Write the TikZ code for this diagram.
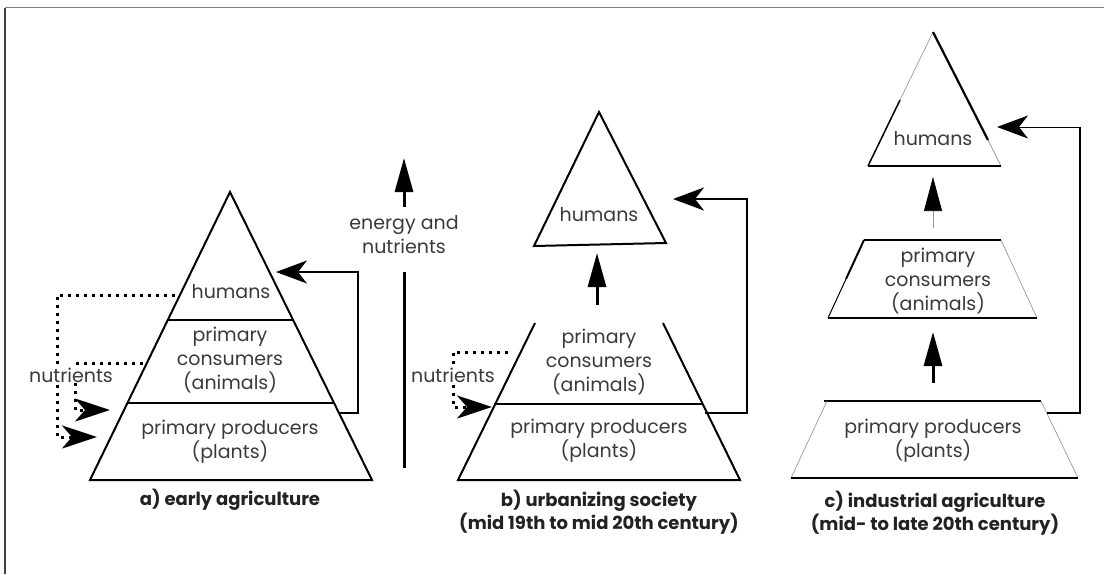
\documentclass[tikz,border=0pt]{standalone}
\usepackage{fontspec}
\setmainfont{Poppins}
\usetikzlibrary{arrows.meta,calc}
\definecolor{txt}{HTML}{3A3A3A}
\definecolor{captxt}{HTML}{222222}
\begin{document}
\begin{tikzpicture}[x=1pt,y=-1pt,
  pyr/.style={line width=2pt, line join=miter},
  faint/.style={line width=0.7pt, black!40},
  lbl/.style={font=\fontsize{19}{24}\selectfont, text=txt, align=center, inner sep=0pt},
  capt/.style={font=\bfseries\fontsize{18}{23}\selectfont, text=captxt, align=center, inner sep=0pt},
  fb/.style={line width=2pt, -{Stealth[length=31pt,width=23pt,inset=9pt]}},
  fbthin/.style={line width=1pt, -{Stealth[length=31pt,width=23pt,inset=9pt]}},
  uparr/.style={line width=3pt, -{Triangle[length=34pt,width=18pt]}},
  uparrthin/.style={line width=0.7pt, black!40, -{Triangle[length=34pt,width=18pt,black]}},
  dotarr/.style={line width=3pt, dash pattern=on 3pt off 5pt, -{Stealth[length=35pt,width=23pt,inset=10pt]}},
  nutr/.style={lbl, fill=white, inner sep=1pt}
]
\useasboundingbox (0,0) rectangle (1104,574);
% frame
\coordinate (f1) at (5,574); \coordinate (f2) at (5,7.5); \coordinate (f3) at (1104,7.5);
\draw[line width=1.5pt, black!75] (f1) -- (f2);
\draw[line width=1.5pt, black!50] (f2) -- (f3);

% ---------- a) early agriculture ----------
\coordinate (aA) at (230,192); \coordinate (aL) at (90,480); \coordinate (aR) at (372,480);
\draw[pyr] (aA) -- (aR) -- (aL) -- cycle;
\coordinate (ad1l) at (167,320); \coordinate (ad1r) at (293,320);
\coordinate (ad2l) at (127,403); \coordinate (ad2r) at (333,403);
\draw[pyr] (ad1l) -- (ad1r);
\draw[pyr] (ad2l) -- (ad2r);
\node[lbl] (ahum) at (231,292) {humans};
\node[lbl] (acons) at (230,360) {primary\\consumers\\(animals)};
\node[lbl] (aprod) at (230,442) {primary producers\\(plants)};
\node[capt] (acap) at (230,500) {a) early agriculture};
% feedback
\coordinate (afb0) at (340,413); \coordinate (afb1) at (358,413);
\coordinate (afb2) at (358,272); \coordinate (afb3) at (276,272);
\draw[fb] (afb0) -- (afb1) -- (afb2) -- (afb3);
% nutrients dotted
\coordinate (ad0) at (175,295); \coordinate (ad1) at (57,295);
\coordinate (ad2) at (57,437); \coordinate (ad3) at (97,437);
\draw[dotarr] (ad0) -- (ad1) -- (ad2) -- (ad3);
\coordinate (ae0) at (143,363); \coordinate (ae1) at (75,363);
\coordinate (ae2) at (75,410); \coordinate (ae3) at (110,410);
\draw[dotarr] (ae0) -- (ae1) -- (ae2) -- (ae3);
\node[nutr] (anut) at (71,375) {nutrients};

% ---------- energy and nutrients ----------
\coordinate (e0) at (404,468); \coordinate (e1) at (404,272);
\draw[line width=3pt] (e0) -- (e1);
\coordinate (e2) at (404,207); \coordinate (e3) at (404,158);
\draw[uparr] (e2) -- (e3);
\node[lbl] (elbl) at (404,235) {energy and\\nutrients};

% ---------- b) urbanizing society ----------
\coordinate (bhA) at (599,112); \coordinate (bhL) at (534,246); \coordinate (bhR) at (666,243);
\draw[pyr] (bhA) -- (bhR) -- (bhL) -- cycle;
\node[lbl] (bhum) at (599,215) {humans};
\coordinate (bu0) at (597,305); \coordinate (bu1) at (597,253);
\draw[uparr] (bu0) -- (bu1);
\coordinate (bTL) at (535,323); \coordinate (bTR) at (663,323);
\coordinate (bBL) at (458,480); \coordinate (bBR) at (740,480);
\draw[pyr] (bTL) -- (bBL) -- (bBR) -- (bTR);
\coordinate (bd1) at (494,404); \coordinate (bd2) at (702,404);
\draw[pyr] (bd1) -- (bd2);
\node[lbl] (bcons) at (599,362) {primary\\consumers\\(animals)};
\node[lbl] (bprod) at (599,441) {primary producers\\(plants)};
\node[capt] (bcap) at (599,512) {b) urbanizing society\\(mid 19th to mid 20th century)};
\coordinate (bfb0) at (705,413); \coordinate (bfb1) at (747,413);
\coordinate (bfb2) at (747,199); \coordinate (bfb3) at (673,199);
\draw[fb] (bfb0) -- (bfb1) -- (bfb2) -- (bfb3);
\coordinate (bn0) at (508,352); \coordinate (bn1) at (453,352);
\coordinate (bn2) at (453,407); \coordinate (bn3) at (492,407);
\draw[dotarr] (bn0) -- (bn1) -- (bn2) -- (bn3);
\node[nutr] (bnut) at (453,375) {nutrients};

% ---------- c) industrial agriculture ----------
\coordinate (chA) at (933,32); \coordinate (chL) at (868,166); \coordinate (chR) at (1001,166);
\coordinate (chLm) at (900,100); \coordinate (chRm) at (988,140);
\draw[faint] (chA) -- (chLm);
\draw[line width=1.5pt] (chLm) -- (chL);
\draw[line width=2.2pt] (chA) -- (chRm);
\draw[faint] (chRm) -- (chR);
\draw[pyr] (chL) -- (chR);
\node[lbl] (chum) at (933,139) {humans};
\coordinate (cu0) at (933,228); \coordinate (cu1) at (933,177);
\draw[uparrthin] (cu0) -- (cu1);
% middle trapezoid
\coordinate (cmTL) at (864,240); \coordinate (cmTR) at (1001,240);
\coordinate (cmBL) at (828,318); \coordinate (cmBR) at (1037,318);
\coordinate (cmLm) at (846,279);
\draw[pyr] (cmTL) -- (cmTR);
\draw[line width=2pt] (cmTL) -- (cmLm);
\draw[line width=1pt] (cmLm) -- (cmBL);
\draw[faint] (cmTR) -- (cmBR);
\draw[pyr] (cmBL) -- (cmBR);
\node[lbl] (ccons) at (938,281) {primary\\consumers\\(animals)};
\coordinate (cu2) at (933,383); \coordinate (cu3) at (933,332);
\draw[uparr] (cu2) -- (cu3);
% bottom trapezoid
\coordinate (cbTL) at (824,401); \coordinate (cbTR) at (1041,401);
\coordinate (cbL1) at (827,401); \coordinate (cbR1) at (1041,401);
\coordinate (cbBL) at (791,478); \coordinate (cbBR) at (1078,478);
\draw[pyr] (cbTL) -- (cbTR);
\draw[faint] (cbL1) -- (cbBL);
\draw[faint] (cbR1) -- (cbBR);
\draw[pyr] (cbBL) -- (cbBR);
\node[lbl] (cprod) at (933,441) {primary producers\\(plants)};
\node[capt] (ccap) at (935,513) {c) industrial agriculture\\(mid- to late 20th century)};
\coordinate (cfb0) at (1047,413); \coordinate (cfb1) at (1080,413);
\coordinate (cfb2) at (1080,127); \coordinate (cfb3) at (997,127);
\draw[line width=2pt] (cfb0) -- (cfb1) -- (cfb2);
\draw[fbthin] (cfb2) -- (cfb3);
\end{tikzpicture}
\end{document}
